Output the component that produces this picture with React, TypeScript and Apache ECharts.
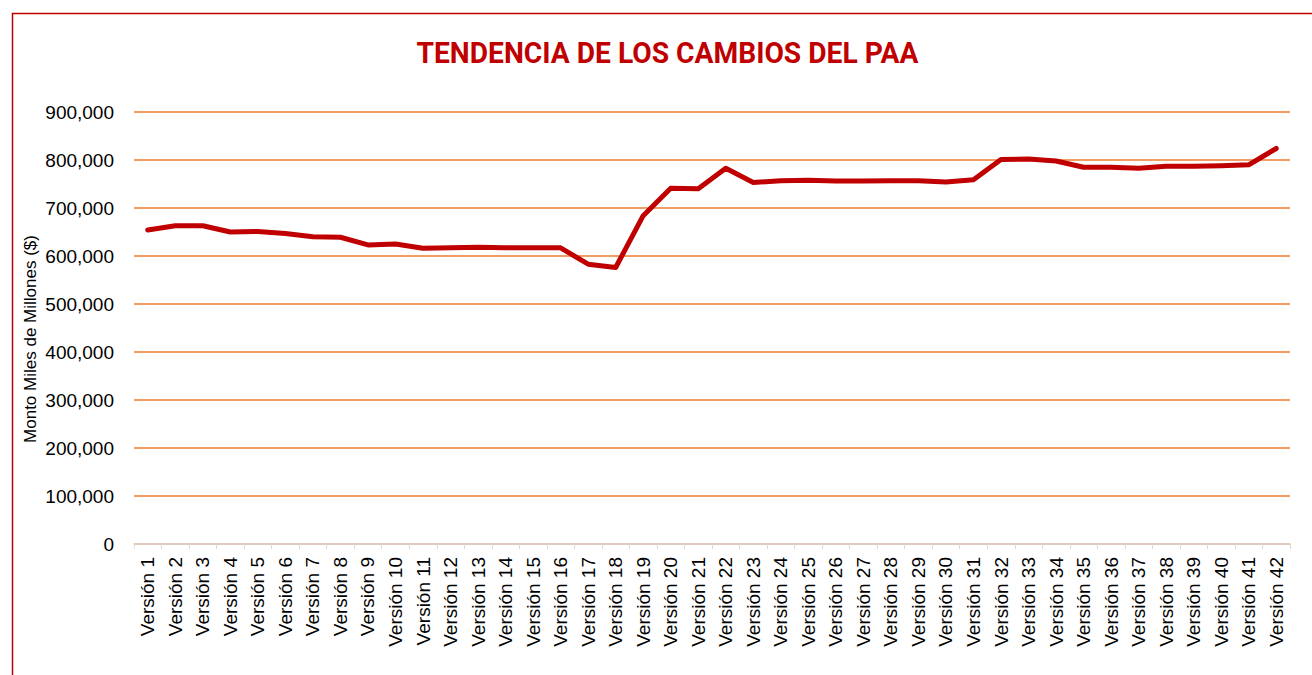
import React, { useEffect, useRef } from "react";
import * as echarts from "echarts";

const categories: string[] = Array.from({ length: 42 }, (_, i) => `Versión ${i + 1}`);
const values: number[] = [
  654000, 663000, 663000, 650000, 651000, 647000, 640000, 639000, 623000, 625000,
  616000, 617000, 618000, 617000, 617000, 617000, 583000, 576000, 684000, 741000,
  740000, 783000, 753000, 757000, 758000, 756000, 756000, 757000, 757000, 754000,
  759000, 801000, 802000, 798000, 785000, 785000, 783000, 787000, 787000, 788000,
  790000, 824000,
];
const title = "TENDENCIA DE LOS CAMBIOS DEL PAA";
const yAxisName = "Monto Miles de Millones ($)";

const FONT = "'Liberation Sans', Arial, sans-serif";

export default function App() {
  const ref = useRef<HTMLDivElement>(null);
  useEffect(() => {
    if (!ref.current) return;
    const chart = echarts.init(ref.current, undefined, { renderer: "svg" });
    chart.setOption({
      animation: false,
      backgroundColor: "#ffffff",
      graphic: [
        {
          type: "rect",
          shape: { x: 12.5, y: 13.5, width: 1320, height: 700 },
          style: { fill: "none", stroke: "#C00000", lineWidth: 1.5 },
          silent: true,
        },
        {
          type: "text",
          x: 667.5,
          y: 53,
          scaleX: 0.94,
          style: {
            text: title,
            fill: "#C00000",
            fontSize: 30,
            fontWeight: "bold",
            fontFamily: "Roboto, sans-serif",
            align: "center",
            verticalAlign: "middle",
          },
          silent: true,
        },
        {
          type: "text",
          x: 30,
          y: 339,
          rotation: Math.PI / 2,
          style: {
            text: yAxisName,
            fill: "#000000",
            fontSize: 17,
            fontFamily: FONT,
            align: "center",
            verticalAlign: "middle",
          },
          silent: true,
        },
      ],
      grid: { left: 134, right: 22, top: 112, bottom: 131, containLabel: false },
      xAxis: {
        type: "category",
        data: categories,
        boundaryGap: true,
        axisLine: { show: true, lineStyle: { color: "#D9D9D9", width: 1.5 } },
        axisTick: { show: true, alignWithLabel: false, length: 5, lineStyle: { color: "#D9D9D9" } },
        axisLabel: {
          rotate: 90,
          interval: 0,
          margin: 13,
          color: "#000000",
          fontSize: 19,
          fontFamily: FONT,
        },
      },
      yAxis: {
        type: "value",
        min: 0,
        max: 900000,
        interval: 100000,
        axisLine: { show: false },
        axisTick: { show: false },
        splitLine: { show: true, lineStyle: { color: "#ED7D31", width: 1.5 } },
        axisLabel: {
          margin: 20,
          color: "#000000",
          fontSize: 19,
          fontFamily: FONT,
          formatter: (v: number) => v.toLocaleString("en-US"),
        },
      },
      series: [
        {
          type: "line",
          data: values,
          showSymbol: false,
          symbol: "none",
          lineStyle: { color: "#C00000", width: 5, cap: "round", join: "round" },
          itemStyle: { color: "#C00000" },
        },
      ],
    });
    return () => chart.dispose();
  }, []);
  return (
    <div
      ref={ref}
      style={{ position: "fixed", left: 0, top: 0, width: 1312, height: 675 }}
    />
  );
}
